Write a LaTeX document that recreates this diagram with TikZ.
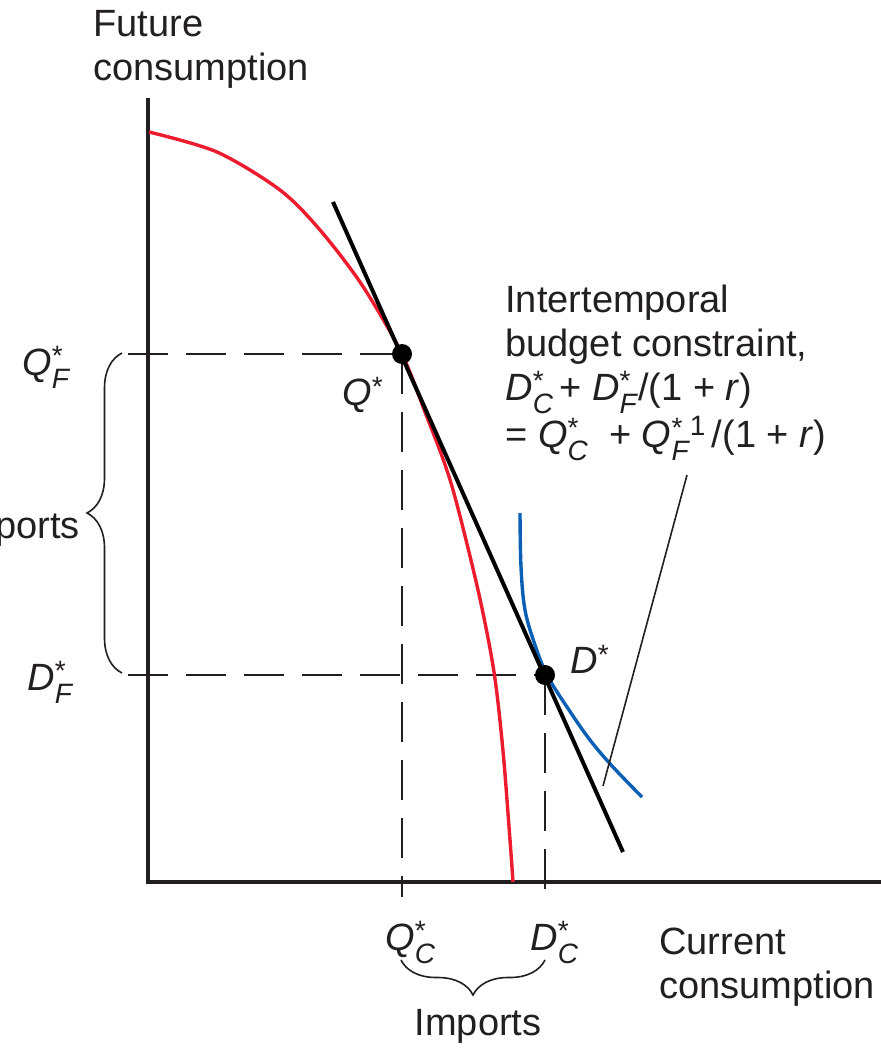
\documentclass[tikz,border=0pt]{standalone}
\usepackage{fontspec}
\setmainfont{Liberation Sans}
\usetikzlibrary{decorations.pathreplacing}
\definecolor{ink}{HTML}{231F20}
\definecolor{ppfred}{HTML}{EC1C2E}
\definecolor{indblue}{HTML}{0B5FB5}
\newcommand\ssz{\fontsize{14}{14}\selectfont}
\newcommand\starsub[2]{\textit{#1}\rlap{\raisebox{5pt}{\ssz *}}\raisebox{-6.5pt}{\ssz\textit{#2}}}
\newcommand\starsup[1]{\textit{#1}\raisebox{4.5pt}{\ssz *}}
\begin{document}
\begin{tikzpicture}[x=0.5pt,y=-0.5pt,
  font=\fontsize{19}{22}\selectfont,
  every node/.style={inner sep=0pt, text=ink},
  axisline/.style={ink, line width=2pt},
  guide/.style={ink, line width=1pt, dash pattern=on 20pt off 9pt},
  budget/.style={black, line width=2pt},
  ppfline/.style={ppfred, line width=1.7pt},
  indline/.style={indblue, line width=1.7pt},
  dotmark/.style={circle, fill=black, minimum size=10pt},
  bracestyle/.style={ink, line width=0.8pt, decorate, decoration={brace, amplitude=17.5pt}},
  leader/.style={ink, line width=0.8pt}]
\useasboundingbox (0,0) rectangle (881,1048);
\clip (0,0) rectangle (881,1048);

% axes
\coordinate (O) at (148,882);
\coordinate (ytop) at (148,98);
\coordinate (xend) at (881,882);
\draw[axisline] (ytop) -- (O) -- (xend);

% key points
\coordinate (Qs) at (402,354);
\coordinate (Ds) at (545,675);
\coordinate (QF) at (128,354);
\coordinate (DF) at (128,675);
\coordinate (QC) at (402,897);
\coordinate (DC) at (545,897);

% dashed guides
\draw[guide] (QF) -- (Qs);
\draw[guide] (DF) -- (Ds);
\draw[guide] (Qs) -- (QC);
\draw[guide] (Ds) -- (DC);

% production possibility frontier
\draw[ppfline] plot[smooth, tension=0.5] coordinates {(149,132) (217,152) (280,190) (320,230) (362,285) (401,352) (425,412) (451,483) (478,590) (494,672) (503,751) (510,840) (513,882)};

% indifference curve
\draw[indline] plot[smooth, tension=0.6] coordinates {(520,513) (521,567) (525,610) (535,645) (547,675) (567,707) (590,740) (613,767) (642,797)};

% budget line
\coordinate (bl1) at (333,202);
\coordinate (bl2) at (623,852);
\draw[budget] (bl1) -- (bl2);

% leader
\coordinate (lt) at (687,475);
\coordinate (lb) at (603,786);
\draw[leader] (lt) -- (lb);

% dots
\node[dotmark] (dQ) at (Qs) {};
\node[dotmark] (dD) at (Ds) {};

% braces
\coordinate (bvb) at (122,673);
\coordinate (bvt) at (122,353);
\draw[bracestyle] (bvb) -- (bvt);
\coordinate (bhr) at (545,960);
\coordinate (bhl) at (401,960);
\draw[bracestyle] (bhr) -- (bhl);

% labels
\node[anchor=north west, align=left] (ylab) at (93,10) {Future\\consumption};
\node[anchor=north west, align=left] (xlab) at (659,928) {Current\\consumption};
\node[anchor=base] (imp) at (478,1035) {Imports};
\node[anchor=base east] (exp) at (80,538) {Exports};
\node[anchor=base west] (lQF) at (22,375) {\starsub{Q}{F}};
\node[anchor=base west] (lDF) at (27,690) {\starsub{D}{F}};
\node[anchor=base west] (lQ) at (342,405) {\starsup{Q}};
\node[anchor=base west] (lD) at (570,673) {\starsup{D}};
\node[anchor=base west] (lQC) at (385,950) {\starsub{Q}{C}};
\node[anchor=base west] (lDC) at (530,950) {\starsub{D}{C}};
\node[anchor=north west, align=left] (ibc) at (505,285)
  {Intertemporal\\budget constraint,\\\starsub{D}{C}\,+ \starsub{D}{F}/(1 + \textit{r})\\= \starsub{Q}{C}\ \ + \starsub{Q}{F}\raisebox{6pt}{\ssz 1}\,/(1 + \textit{r})};
\end{tikzpicture}
\end{document}
